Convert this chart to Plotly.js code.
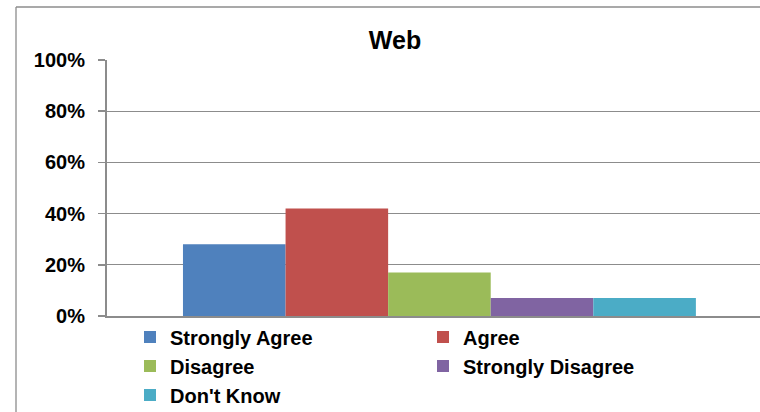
<!DOCTYPE html>
<html>
<head>
<meta charset="utf-8">
<script src="https://cdn.plot.ly/plotly-3.0.1.min.js"></script>
<style>html,body{margin:0;padding:0;background:#fff;}#chart{width:760px;height:412px;}</style>
</head>
<body>
<div id="chart"></div>
<script>
const chartTitle = "Web";
const seriesNames = ["Strongly Agree", "Agree", "Disagree", "Strongly Disagree", "Don't Know"];
const seriesValues = [0.28, 0.42, 0.17, 0.07, 0.07];
const seriesColors = ["#4F81BD", "#C0504D", "#9BBB59", "#8064A2", "#4BACC6"];
const yTickVals = [0, 0.2, 0.4, 0.6, 0.8, 1.0];
const yTickText = ["0%", "20%", "40%", "60%", "80%", "100%"];

const FONT = "Liberation Sans, Arial, sans-serif";
const GRID = "#8c8c8c";

const traces = seriesNames.map((name, i) => ({
  type: "bar",
  name: name,
  x: [0],
  y: [seriesValues[i]],
  marker: {color: seriesColors[i], line: {width: 0}},
  hoverinfo: "name+y"
}));

const W = 760, H = 412, L = 107, R = 0, T = 60, B = 96;
const pw = W - L - R, ph = H - T - B;
const px = v => (v - L) / pw;
const py = v => (H - B - v) / ph;

const layout = {
  width: W, height: H,
  margin: {l: L, r: R, t: T, b: B, pad: 0, autoexpand: false},
  paper_bgcolor: "#ffffff",
  plot_bgcolor: "#ffffff",
  font: {family: FONT, color: "#000000", size: 20},
  title: {
    text: "<b>" + chartTitle + "</b>",
    font: {family: FONT, size: 25, color: "#000"},
    xref: "paper", x: px(395), xanchor: "center",
    yref: "container", y: 1 - 40 / H, yanchor: "middle"
  },
  barmode: "group",
  bargap: 0.2,
  bargroupgap: 0,
  showlegend: true,
  legend: {
    orientation: "h",
    entrywidth: 248, entrywidthmode: "pixels",
    x: px(130), xanchor: "left",
    y: py(366), yanchor: "middle",
    font: {family: FONT, size: 20, color: "#000", weight: "bold"},
    traceorder: "normal",
    bgcolor: "rgba(0,0,0,0)"
  },
  xaxis: {
    range: [-0.5185, 0.5],
    showticklabels: false,
    ticks: "",
    showgrid: false,
    zeroline: false,
    showline: true, linecolor: GRID, linewidth: 2,
    fixedrange: true
  },
  yaxis: {
    range: [0, 1],
    tickvals: yTickVals,
    ticktext: yTickText,
    tickfont: {family: FONT, size: 20, color: "#000", weight: "bold"},
    ticks: "outside", ticklen: 7, tickcolor: GRID, tickwidth: 1.5,
    ticklabelstandoff: 9,
    showgrid: true, gridcolor: GRID, gridwidth: 1.3,
    zeroline: false,
    showline: true, linecolor: GRID, linewidth: 2,
    fixedrange: true
  },
  shapes: [
    {type: "line", xref: "paper", yref: "paper", x0: px(16), x1: px(16), y0: py(7), y1: py(420), line: {color: GRID, width: 1.3}},
    {type: "line", xref: "paper", yref: "paper", x0: px(16), x1: px(800), y0: py(7), y1: py(7), line: {color: GRID, width: 1.3}}
  ]
};

Plotly.newPlot("chart", traces, layout, {displayModeBar: false, staticPlot: true});
</script>
</body>
</html>
